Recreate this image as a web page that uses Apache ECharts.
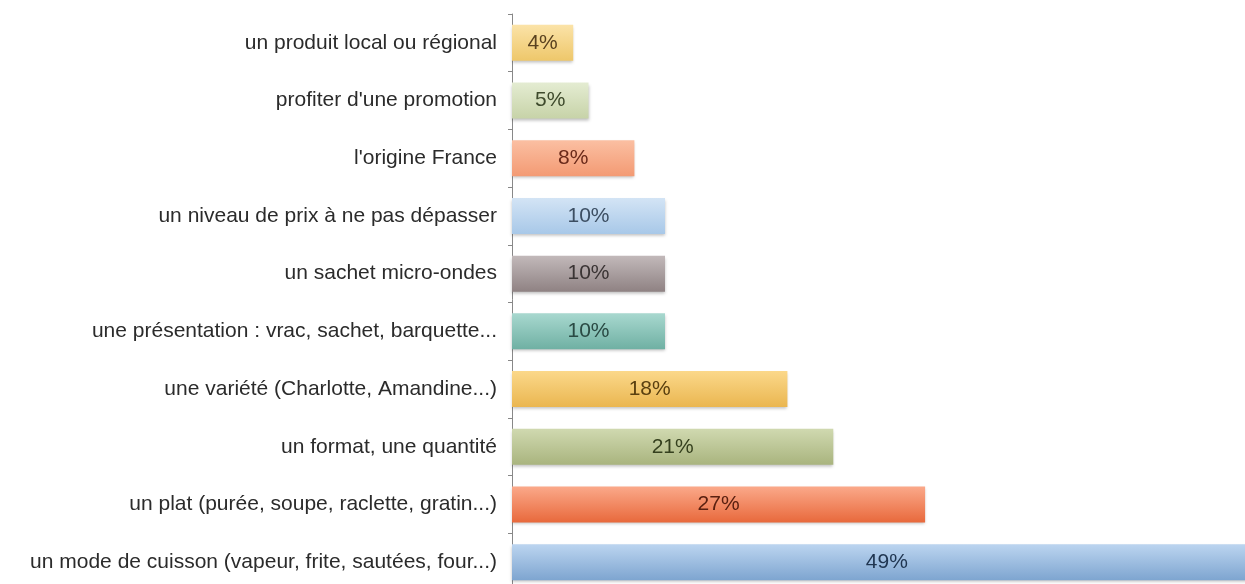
<!DOCTYPE html>
<html>
<head>
<meta charset="utf-8">
<script src="https://cdn.jsdelivr.net/npm/echarts@6/dist/echarts.min.js"></script>
<style>
html, body { margin: 0; padding: 0; background: #fff; }
#chart { width: 1245px; height: 584px; }
</style>
</head>
<body>
<div id="chart"></div>
<script>
var categories = [
    'un produit local ou régional',
    "profiter d'une promotion",
    "l'origine France",
    'un niveau de prix à ne pas dépasser',
    'un sachet micro-ondes',
    'une présentation : vrac, sachet, barquette...',
    'une variété (Charlotte, Amandine...)',
    'un format, une quantité',
    'un plat (purée, soupe, raclette, gratin...)',
    'un mode de cuisson (vapeur, frite, sautées, four...)'
];
var values = [4, 5, 8, 10, 10, 10, 18, 21, 27, 49];

// top colour, bottom colour, label colour
var topColors = ['#fbe3a8', '#e4ecd2', '#fbbfa2', '#d3e4f5', '#c2b9ba', '#a8d8cf', '#fbd88a', '#d0d9b0', '#fba98a', '#bcd5f0'];
var bottomColors = ['#eec76a', '#c7d3a8', '#f39a73', '#a8c8e8', '#8f8283', '#6fb0a3', '#eab650', '#a9b47e', '#e8693c', '#7ea5d0'];
var labelColors = ['#5a4220', '#3e4a2c', '#6a2a1a', '#3c4e62', '#3a3434', '#2a4a44', '#5a4010', '#35401e', '#5a2010', '#1f3550'];

var chart = echarts.init(document.getElementById('chart'));

var data = values.map(function (v, i) {
    return {
        value: v,
        itemStyle: {
            color: new echarts.graphic.LinearGradient(0, 0, 0, 1, [
                {offset: 0, color: topColors[i]},
                {offset: 1, color: bottomColors[i]}
            ])
        },
        label: {color: labelColors[i]}
    };
});

var option = {
    animation: false,
    grid: {
        left: 512,
        top: 14,
        width: 765,
        height: 577,
        outerBoundsMode: 'none'
    },
    xAxis: {
        type: 'value',
        min: 0,
        max: 50,
        show: false
    },
    yAxis: {
        type: 'category',
        inverse: true,
        data: categories,
        axisLine: {lineStyle: {color: '#888', width: 1}},
        axisTick: {show: true, length: 4, lineStyle: {color: '#888'}},
        axisLabel: {
            color: '#2b2b2b',
            fontFamily: 'Liberation Sans',
            fontSize: 21,
            margin: 15
        }
    },
    series: [{
        type: 'bar',
        data: data,
        barWidth: 36,
        itemStyle: {
            shadowBlur: 3,
            shadowOffsetY: 2,
            shadowColor: 'rgba(0,0,0,0.25)'
        },
        label: {
            show: true,
            position: 'inside',
            formatter: '{c}%',
            fontFamily: 'Liberation Sans',
            fontSize: 21
        }
    }]
};
chart.setOption(option);
</script>
</body>
</html>
